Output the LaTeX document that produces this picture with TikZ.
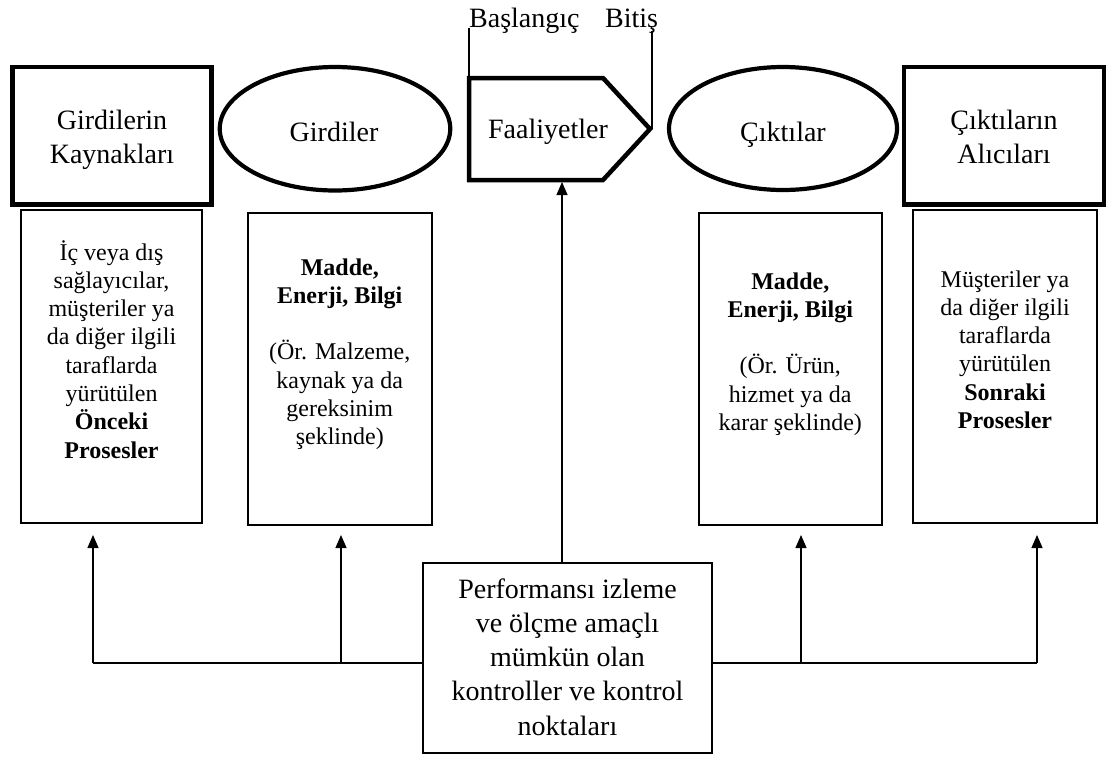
\documentclass[tikz,border=0pt]{standalone}
\usepackage{fontspec}
\setmainfont{Liberation Serif}
\usetikzlibrary{arrows.meta,shapes.geometric}

% centred block of lines whose baseline is the first line's baseline
\newcommand\lineblock[1]{\begin{tabular}[t]{@{}c@{}}#1\end{tabular}}

\begin{document}
\begin{tikzpicture}[x=1pt,y=-1pt,
  headbox/.style={draw,line width=4.5pt,inner sep=0pt},
  oval/.style={draw,ellipse,line width=4.2pt,inner sep=0pt},
  bodybox/.style={draw,line width=2pt,inner sep=0pt},
  link/.style={line width=1.2pt},
  arrowlink/.style={link,-{Triangle[width=11pt,length=13pt]}},
  headtext/.style={font=\fontsize{28}{34}\selectfont,inner sep=0pt,anchor=base},
  bodytext/.style={font=\fontsize{24}{28.3}\selectfont,inner sep=0pt,anchor=base},
  ctrltext/.style={font=\fontsize{28}{34.3}\selectfont,inner sep=0pt,anchor=base}]

\useasboundingbox (0,0) rectangle (1108,756);

% ---- top row: sources, inputs, activity, outputs, receivers ----
\node[headbox,minimum width=199pt,minimum height=137.5pt] (src) at (112,135.75) {};
\node[headtext] (srct) at (112,129) {\lineblock{Girdilerin\\Kaynakları}};

\node[oval,minimum width=230.5pt,minimum height=123.5pt] (inp) at (335,128.75) {};
\node[headtext] (inpt) at (334,141) {Girdiler};

\coordinate (actA) at (469,78);
\coordinate (actB) at (603,78);
\coordinate (actTip) at (650,129);
\coordinate (actC) at (603,180);
\coordinate (actD) at (469,180);
\draw[line width=4.5pt,line join=miter] (actA) -- (actB) -- (actTip) -- (actC) -- (actD) -- cycle;
\node[headtext] (actt) at (548,138) {Faaliyetler};

\node[oval,minimum width=228pt,minimum height=123pt] (outp) at (783,128.5) {};
\node[headtext] (outpt) at (783,141) {Çıktılar};

\node[headbox,minimum width=200pt,minimum height=137.5pt] (rcv) at (1004,135.75) {};
\node[headtext] (rcvt) at (1004,129) {\lineblock{Çıktıların\\Alıcıları}};

% ---- start / end markers of the activity ----
\node[headtext,anchor=base west] (start) at (469,27) {Başlangıç};
\node[headtext,anchor=base west] (finish) at (605,27) {Bitiş};
\coordinate (startfoot) at (469,28);
\coordinate (finishfoot) at (652,31);
\draw[link] (startfoot) -- (actA);
\draw[link] (finishfoot) -- (finishfoot |- actTip);

% ---- description boxes ----
\node[bodybox,minimum width=181pt,minimum height=313pt] (srcd) at (111.5,366.5) {};
\node[bodytext] (srcdt) at (111.5,260) {\lineblock{İç veya dış\\sağlayıcılar,\\müşteriler ya\\da diğer ilgili\\taraflarda\\yürütülen\\\textbf{Önceki}\\\textbf{Prosesler}}};

\node[bodybox,minimum width=183.5pt,minimum height=312pt] (inpd) at (339.75,369) {};
\node[bodytext] (inpdt) at (339.75,275) {\lineblock{\textbf{Madde,}\\\textbf{Enerji, Bilgi}\\ \\(Ör. Malzeme,\\kaynak ya da\\gereksinim\\şeklinde)}};

\node[bodybox,minimum width=183.5pt,minimum height=312pt] (outpd) at (790.25,369) {};
\node[bodytext] (outpdt) at (790.25,289) {\lineblock{\textbf{Madde,}\\\textbf{Enerji, Bilgi}\\ \\(Ör. Ürün,\\hizmet ya da\\karar şeklinde)}};

\node[bodybox,minimum width=183.5pt,minimum height=313pt] (rcvd) at (1004.75,366.5) {};
\node[bodytext] (rcvdt) at (1005,287) {\lineblock{Müşteriler ya\\da diğer ilgili\\taraflarda\\yürütülen\\\textbf{Sonraki}\\\textbf{Prosesler}}};

% ---- control box ----
\node[bodybox,minimum width=289pt,minimum height=190pt] (ctrl) at (567.5,658) {};
\node[ctrltext] (ctrlt) at (567.5,598) {\lineblock{Performansı izleme\\ve ölçme amaçlı\\mümkün olan\\kontroller ve kontrol\\noktaları}};

% ---- feedback connectors ----
\coordinate (busL) at (93,663);
\coordinate (busR) at (1037,663);
\coordinate (tipA) at (93,535);
\coordinate (tipB) at (341,535);
\coordinate (tipC) at (801,535);
\coordinate (tipD) at (1037,535);
\coordinate (actIn) at (562,182);

\draw[link] (ctrl.west |- busL) -- (busL);
\draw[link] (ctrl.east |- busR) -- (busR);
\draw[arrowlink] (busL) -- (tipA);
\draw[arrowlink] (tipB |- busL) -- (tipB);
\draw[arrowlink] (tipC |- busR) -- (tipC);
\draw[arrowlink] (busR) -- (tipD);
\draw[arrowlink] (actIn |- ctrl.north) -- (actIn);
\end{tikzpicture}
\end{document}
